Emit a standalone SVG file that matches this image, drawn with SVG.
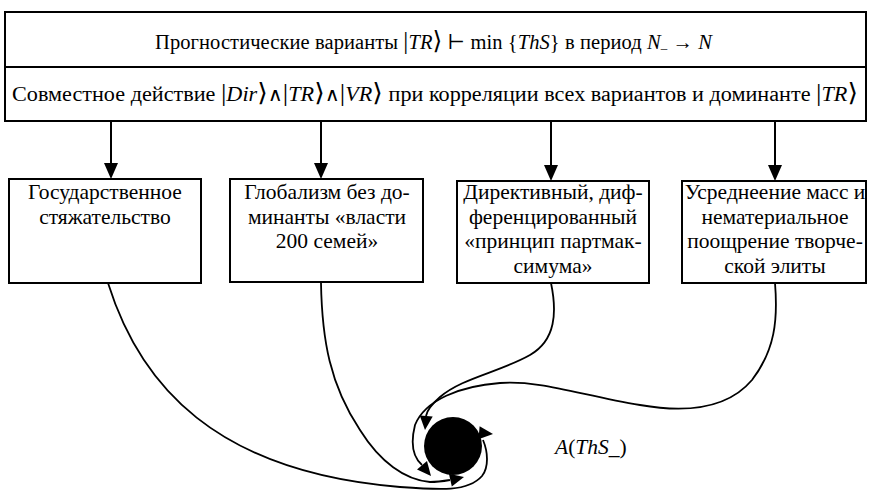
<svg xmlns="http://www.w3.org/2000/svg" xmlns:xlink="http://www.w3.org/1999/xlink" width="872" height="490" viewBox="0 0 872 490">
<style>
.box{fill:#fff;stroke:#000;stroke-width:2}
.t{font-family:"Liberation Serif","DejaVu Serif",serif;font-size:21.5px;fill:#000}
.h{font-size:20.5px}
.c{text-anchor:middle}
.i{font-style:italic}
.d{font-size:25px}
.w{font-family:"DejaVu Serif",serif;font-size:19px}
.ln{fill:none;stroke:#000;stroke-width:2}
.cv{fill:none;stroke:#000;stroke-width:1.8}
</style>
<defs>
<path id="ah" d="M0,0 L-16,-7 L-16,7 Z" fill="#000"/>
<path id="ahs" d="M0,0 L-14,-6.5 L-14,6.5 Z" fill="#000"/>
</defs>
<rect width="872" height="490" fill="#fff"/>
<g id="header">
<rect class="box" x="5" y="12" width="861" height="109"/>
<line class="ln" x1="5" y1="67" x2="866" y2="67"/>
<text class="t h" x="155" y="49" textLength="557" lengthAdjust="spacing">Прогностические варианты <tspan class="d">|</tspan><tspan class="i">TR</tspan><tspan class="d">⟩</tspan> ⊢ min {<tspan class="i">ThS</tspan>} в период <tspan class="i">N</tspan><tspan font-size="13" dy="3">–</tspan><tspan dy="-3"> → </tspan><tspan class="i">N</tspan></text>
<text class="t h" x="12" y="101" textLength="846" lengthAdjust="spacingAndGlyphs">Совместное действие <tspan class="d">|</tspan><tspan class="i">Dir</tspan><tspan class="d">⟩</tspan><tspan class="w">∧</tspan><tspan class="d">|</tspan><tspan class="i">TR</tspan><tspan class="d">⟩</tspan><tspan class="w">∧</tspan><tspan class="d">|</tspan><tspan class="i">VR</tspan><tspan class="d">⟩</tspan> при корреляции всех вариантов и доминанте <tspan class="d">|</tspan><tspan class="i">TR</tspan><tspan class="d">⟩</tspan></text>
</g>
<g id="box1">
<rect class="box" x="9" y="179" width="192" height="104"/>
<text class="t c" x="105" y="199">Государственное</text>
<text class="t c" x="105" y="223.5">стяжательство</text>
</g>
<g id="box2">
<rect class="box" x="230" y="179" width="193" height="103"/>
<text class="t c" x="327" y="199">Глобализм без до-</text>
<text class="t c" x="327" y="223.5">минанты «власти</text>
<text class="t c" x="327" y="248">200 семей»</text>
</g>
<g id="box3">
<rect class="box" x="457" y="181" width="192" height="102"/>
<text class="t c" x="553" y="199">Директивный, диф-</text>
<text class="t c" x="553" y="223.5">ференцированный</text>
<text class="t c" x="553" y="248">«принцип партмак-</text>
<text class="t c" x="553" y="272.5">симума»</text>
</g>
<g id="box4">
<rect class="box" x="682" y="181" width="184" height="102"/>
<text class="t c" x="775" y="199">Усреднеение масс и</text>
<text class="t c" x="775" y="223.5">нематериальное</text>
<text class="t c" x="775" y="248">поощрение творче-</text>
<text class="t c" x="775" y="272.5">ской элиты</text>
</g>
<g id="attractor">
<circle cx="453" cy="446" r="29" fill="#000"/>
<text class="t" x="555" y="454" font-size="24"><tspan class="i">A</tspan>(<tspan class="i">ThS</tspan>_)</text>
</g>
<g id="connectors">
<line class="ln" x1="111" y1="121" x2="111" y2="165"/>
<use xlink:href="#ah" transform="translate(111,179) rotate(90)"/>
<line class="ln" x1="321" y1="121" x2="321" y2="165"/>
<use xlink:href="#ah" transform="translate(321,179) rotate(90)"/>
<line class="ln" x1="551" y1="121" x2="551" y2="167"/>
<use xlink:href="#ah" transform="translate(551,181) rotate(90)"/>
<line class="ln" x1="775" y1="121" x2="775" y2="167"/>
<use xlink:href="#ah" transform="translate(775,181) rotate(90)"/>
<path class="cv" d="M108,283 C140,385 215,472 400,487 C440,490 468,492 482,476 C489,467 488,452 483,440"/>
<use xlink:href="#ahs" transform="translate(493,434) rotate(5)"/>
<path class="cv" d="M321,283 C322,340 330,385 360,430 C380,462 405,480 430,482 C438,482 444,481 450,480"/>
<use xlink:href="#ahs" transform="translate(464,477) rotate(-13)"/>
<path class="cv" d="M551,283 C557,312 556,340 530,355 C500,372 462,378 440,397 C432,404 427,410 426,416"/>
<use xlink:href="#ahs" transform="translate(425,430) rotate(95)"/>
<path class="cv" d="M775,283 C778,320 775,350 752,380 C725,412 680,412 640,405 C580,395 540,380 500,383 C460,386 425,400 415,425 C410,445 414,458 422,465"/>
<use xlink:href="#ahs" transform="translate(431,476) rotate(50)"/>
</g>
</svg>
